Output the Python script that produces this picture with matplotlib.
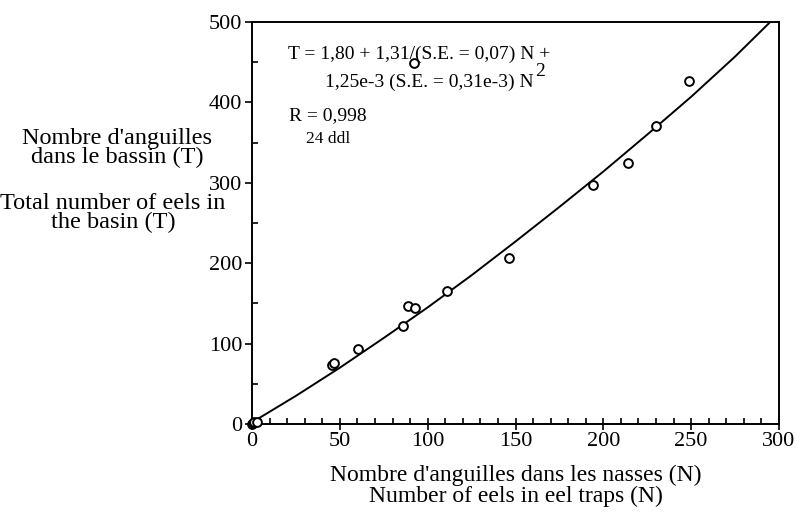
import matplotlib.pyplot as plt
from matplotlib.ticker import MultipleLocator

plt.rcParams['font.family'] = ['Liberation Serif', 'DejaVu Serif']

# observed points (N in traps, T in basin)
n_traps = [0, 0.5, 1, 3, 45.4, 46.7, 60.5, 85.8, 89.0, 92.8, 111.2,
           146.4, 193.9, 214.0, 229.8, 248.7, 92.2]
t_basin = [0.5, 1, 2, 3, 73.3, 75.4, 92.8, 121.7, 146.6, 143.7, 165.6,
           206.6, 296.9, 324.2, 370.2, 426.1, 448.4]

# fitted curve as drawn
curve_n = [0, 25, 50, 75, 100, 125, 150, 175, 200, 225, 250, 275, 295]
curve_t = [2, 35, 70, 107, 145, 185, 227, 270, 314, 360, 407, 457, 500]

fig = plt.figure(figsize=(8.02, 5.14), dpi=100)
ax = fig.add_axes([252 / 802, 1 - 424 / 514, (779 - 252) / 802, (424 - 22) / 514])

ax.plot(curve_n, curve_t, color='black', lw=1.4)
ax.scatter(n_traps, t_basin, s=40, facecolors='white', edgecolors='black',
           linewidths=1.4, zorder=3, clip_on=False)

ax.set_xlim(0, 300)
ax.set_ylim(0, 500)
ax.xaxis.set_major_locator(MultipleLocator(50))
ax.xaxis.set_minor_locator(MultipleLocator(10))
ax.yaxis.set_major_locator(MultipleLocator(100))
ax.yaxis.set_minor_locator(MultipleLocator(50))
ax.tick_params(axis='x', which='major', direction='inout', length=8, width=1.2,
               labelsize=16, pad=2)
ax.tick_params(axis='x', which='minor', direction='in', length=4, width=1.2)
ax.tick_params(axis='y', which='major', direction='out', length=5, width=1.2,
               labelsize=16, pad=2)
ax.tick_params(axis='y', which='minor', direction='in', length=4, width=1.2)
for s in ax.spines.values():
    s.set_linewidth(1.4)

ax.set_xlabel("Nombre d'anguilles dans les nasses (N)\nNumber of eels in eel traps (N)",
              fontsize=17, linespacing=0.97, labelpad=10)

fig.text(117 / 802, 1 - 148 / 514, "Nombre d'anguilles\ndans le bassin (T)",
         ha='center', va='center', fontsize=17.5, linespacing=0.9)
fig.text(113 / 802, 1 - 213 / 514, "Total number of eels in\nthe basin (T)",
         ha='center', va='center', fontsize=17.5, linespacing=0.88)

fig.text(288 / 802, 1 - 54 / 514, "T = 1,80 + 1,31/(S.E. = 0,07) N +",
         ha='left', va='center', fontsize=14)
fig.text(325 / 802, 1 - 82 / 514, "1,25e-3 (S.E. = 0,31e-3) N",
         ha='left', va='center', fontsize=14)
fig.text(535 / 802, 1 - 71 / 514, "2", ha='left', va='center', fontsize=14)
fig.text(289 / 802, 1 - 116 / 514, "R = 0,998", ha='left', va='center', fontsize=14)
fig.text(306 / 802, 1 - 139 / 514, "24 ddl", ha='left', va='center', fontsize=12.5)

fig.savefig('out.png', dpi=100)
